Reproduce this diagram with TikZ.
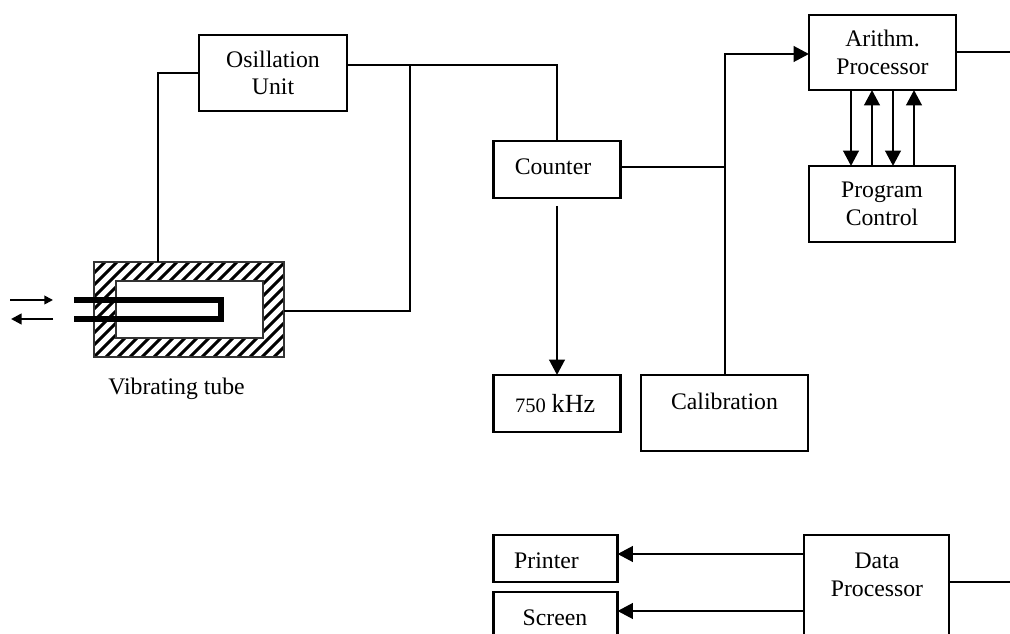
\documentclass[tikz,border=0pt]{standalone}
\usepackage{fontspec}
\setmainfont{Liberation Serif}
\usetikzlibrary{arrows.meta}
\newcommand{\lbl}{\fontsize{17.8pt}{20.8pt}\selectfont}
\tikzset{
  x=0.75pt,y=-0.75pt,
  blk/.style={draw=black,line width=2.2pt,rectangle,inner sep=0pt,outer sep=0pt,align=center,font=\lbl,anchor=north west},
  wire/.style={draw=black,line width=2.2pt},
  arr/.style={wire,-{Triangle[length=11.5pt,width=11.5pt]}},
  smallarr/.style={draw=black,line width=1.3pt,-{Triangle[length=6.5pt,width=6.5pt]}},
  smallarrb/.style={draw=black,line width=1.8pt,-{Triangle[length=8pt,width=8pt]}},
  tube/.style={draw=black,line width=3.8pt},
  hatch/.style={draw=black,line width=2.3pt},
  plain/.style={font=\lbl,inner sep=0pt,outer sep=0pt,anchor=base},
  tubewall/.style={blk,draw=black!80,line width=2.2pt}
}
\begin{document}
\begin{tikzpicture}
\useasboundingbox (0,0) rectangle (1010,634);
\clip (0,0) rectangle (1010,634);
% vibrating tube
\begin{scope}
  \clip (94,262) rectangle (284,357);
  \foreach \k in {-96,-84,...,192}{
    \draw[hatch] (\k+94,357) -- (\k+189,262);
  }
\end{scope}
\node[tubewall,minimum width=142.5pt,minimum height=71.25pt] (outer) at (94,262) {};
\node[tubewall,fill=white,minimum width=110.25pt,minimum height=42.75pt] (inner) at (116,281) {};
\coordinate (t1) at (74,300);
\coordinate (t2) at (74,319);
\coordinate (t3) at (221,300);
\coordinate (t4) at (221,319);
\draw[tube,line join=miter] (t1) -- (t3) -- (t4) -- (t2);
\node[plain] (vt) at (176.5,395) {Vibrating tube};
\coordinate (a1) at (10,300);
\coordinate (a2) at (53,300);
\coordinate (a3) at (53,319);
\coordinate (a4) at (11,319);
\draw[smallarr] (a1) -- (a2);
\draw[smallarrb] (a3) -- (a4);
% boxes
\node[blk,minimum width=111pt,minimum height=57pt] (osc) at (199,35) {Osillation\\Unit};
\node[blk,minimum width=110.25pt,minimum height=56.25pt] (arith) at (809,15) {Arithm.\\Processor};
\node[blk,minimum width=109.5pt,minimum height=57pt] (prog) at (809,166) {Program\\Control};
\node[blk,minimum width=95.25pt,minimum height=42.75pt] (counter) at (493.5,141) {};
\node[plain] (countertext) at (553,175) {Counter};
\node[blk,minimum width=95.25pt,minimum height=42.75pt] (khz) at (493.5,375) {};
\node[plain,anchor=base west] (khztext) at (515,412) {{\fontsize{15.4pt}{16pt}\selectfont 750} {\fontsize{19.6pt}{20pt}\selectfont kHz}};
\node[blk,minimum width=125.25pt,minimum height=57pt] (cal) at (641,375) {};
\node[plain] (caltext) at (724.5,409) {Calibration};
\node[blk,minimum width=93pt,minimum height=35.25pt] (printer) at (493.5,535) {};
\node[plain] (prtext) at (546.5,568) {Printer};
\node[blk,minimum width=93pt,minimum height=45pt] (screen) at (493.5,592) {};
\node[plain] (scrtext) at (555,625) {Screen};
\node[blk,minimum width=108.75pt,minimum height=90pt] (data) at (804,535) {};
\node[plain] (datatext1) at (877,568) {Data};
\node[plain] (datatext2) at (877,596) {Processor};
% connectors
\draw[wire] (osc.west |- 0,73) -- (158,73) -- (outer.north -| 158,0);
\draw[wire] (osc.east |- 0,65) -- (557,65) -- (counter.north -| 557,0);
\coordinate (j1) at (410,65);
\draw[wire] (j1) -- (410,311) -- (outer.east |- 0,311);
\coordinate (j2) at (725,167);
\draw[wire] (counter.east |- j2) -- (j2);
\draw[arr] (cal.north -| 725,0) -- (725,54) -- (arith.west |- 0,54);
\coordinate (c1) at (557,206);
\draw[arr] (c1) -- (khz.north -| c1);
\coordinate (o1) at (1010,52);
\draw[wire] (arith.east |- o1) -- (o1);
\coordinate (o2) at (1010,582);
\draw[wire] (data.east |- o2) -- (o2);
\draw[arr] (arith.south -| 851,0) -- (prog.north -| 851,0);
\draw[arr] (prog.north -| 872,0) -- (arith.south -| 872,0);
\draw[arr] (arith.south -| 893,0) -- (prog.north -| 893,0);
\draw[arr] (prog.north -| 914,0) -- (arith.south -| 914,0);
\draw[arr] (data.west |- 0,554) -- (printer.east |- 0,554);
\draw[arr] (data.west |- 0,611) -- (screen.east |- 0,611);
\end{tikzpicture}
\end{document}
